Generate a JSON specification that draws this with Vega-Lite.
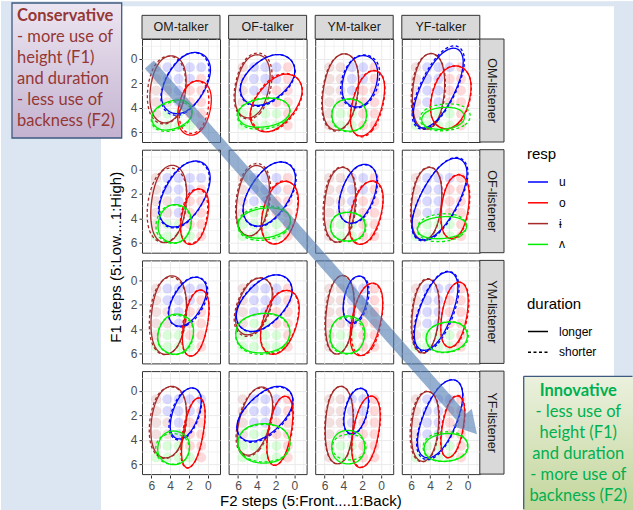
{
"$schema":"https://vega.github.io/schema/vega-lite/v6.json",
"background":"#ffffff",
"padding":0,
"autosize":{"type":"pad"},
"config":{
 "view":{"stroke":"#333333","strokeWidth":1},
 "axis":{"domain":false,"grid":true,"gridColor":"#ebebeb","gridWidth":1,"tickColor":"#333333","tickSize":3,"labelFont":"Liberation Sans","labelFontSize":12,"labelColor":"#4d4d4d","labelPadding":2,"labelOverlap":false,"labelFlush":false},
 "legend":{"orient":"none","padding":0,"symbolType":"stroke","symbolSize":400,"symbolStrokeWidth":1.5,"symbolOpacity":1,"titleFont":"Liberation Sans","titleFontSize":15,"titleFontWeight":"normal","titleColor":"#000000","labelFont":"Liberation Sans","labelFontSize":12,"labelColor":"#000000","titlePadding":9,"rowPadding":3.8,"labelOffset":10}
},
"data":{"values":[
{"k":"p","t":"OM","l":"OM","ct":"OM-talker","rt":"OM-listener"},
{"k":"p","t":"OF","l":"OM","ct":"OF-talker","rt":"OM-listener"},
{"k":"p","t":"YM","l":"OM","ct":"YM-talker","rt":"OM-listener"},
{"k":"p","t":"YF","l":"OM","ct":"YF-talker","rt":"OM-listener"},
{"k":"p","t":"OM","l":"OF","ct":"OM-talker","rt":"OF-listener"},
{"k":"p","t":"OF","l":"OF","ct":"OF-talker","rt":"OF-listener"},
{"k":"p","t":"YM","l":"OF","ct":"YM-talker","rt":"OF-listener"},
{"k":"p","t":"YF","l":"OF","ct":"YF-talker","rt":"OF-listener"},
{"k":"p","t":"OM","l":"YM","ct":"OM-talker","rt":"YM-listener"},
{"k":"p","t":"OF","l":"YM","ct":"OF-talker","rt":"YM-listener"},
{"k":"p","t":"YM","l":"YM","ct":"YM-talker","rt":"YM-listener"},
{"k":"p","t":"YF","l":"YM","ct":"YF-talker","rt":"YM-listener"},
{"k":"p","t":"OM","l":"YF","ct":"OM-talker","rt":"YF-listener"},
{"k":"p","t":"OF","l":"YF","ct":"OF-talker","rt":"YF-listener"},
{"k":"p","t":"YM","l":"YF","ct":"YM-talker","rt":"YF-listener"},
{"k":"p","t":"YF","l":"YF","ct":"YF-talker","rt":"YF-listener"},

{"k":"e","t":"OM","l":"OM","s":"ɨ","d":"longer","x":[1.67,2.76,6.79,5.71],"y":[-0.25,5.69,5.26,-0.68]},
{"k":"e","t":"OM","l":"OM","s":"ɨ","d":"shorter","x":[1.76,2.72,7.03,6.07],"y":[-0.24,5.77,5.36,-0.65]},
{"k":"e","t":"OM","l":"OM","s":"u","d":"longer","x":[-1.58,2.25,6.22,2.38],"y":[0.32,5.41,3.66,-1.43]},
{"k":"e","t":"OM","l":"OM","s":"u","d":"shorter","x":[-1.42,2.23,6.27,2.62],"y":[0.26,5.53,3.88,-1.39]},
{"k":"e","t":"OM","l":"OM","s":"o","d":"longer","x":[-1.09,0.35,3.92,2.48],"y":[1.95,6.74,6.10,1.32]},
{"k":"e","t":"OM","l":"OM","s":"o","d":"shorter","x":[-0.65,0.31,3.59,2.62],"y":[1.81,6.48,6.09,1.41]},
{"k":"e","t":"OM","l":"OM","s":"ʌ","d":"longer","x":[2.10,1.00,5.52,6.61],"y":[2.82,5.12,6.38,4.08]},
{"k":"e","t":"OM","l":"OM","s":"ʌ","d":"shorter","x":[2.07,1.08,5.65,6.64],"y":[2.99,5.32,6.46,4.12]},

{"k":"e","t":"OF","l":"OM","s":"ɨ","d":"longer","x":[1.83,3.37,7.07,5.52],"y":[-0.23,5.35,4.74,-0.83]},
{"k":"e","t":"OF","l":"OM","s":"ɨ","d":"shorter","x":[1.57,3.19,7.22,5.60],"y":[-0.35,5.48,4.82,-1.01]},
{"k":"e","t":"OF","l":"OM","s":"u","d":"longer","x":[-1.34,4.10,7.04,1.61],"y":[1.34,4.83,2.15,-1.35]},
{"k":"e","t":"OF","l":"OM","s":"u","d":"shorter","x":[-1.42,4.10,7.12,1.60],"y":[1.39,4.94,2.18,-1.37]},
{"k":"e","t":"OF","l":"OM","s":"o","d":"longer","x":[-2.18,2.47,6.07,1.43],"y":[2.42,6.98,4.82,0.26]},
{"k":"e","t":"OF","l":"OM","s":"o","d":"shorter","x":[-2.23,2.14,6.02,1.65],"y":[2.36,6.97,4.80,0.19]},
{"k":"e","t":"OF","l":"OM","s":"ʌ","d":"longer","x":[0.47,0.02,6.02,6.47],"y":[2.85,5.33,5.98,3.49]},
{"k":"e","t":"OF","l":"OM","s":"ʌ","d":"shorter","x":[0.47,-0.03,6.09,6.58],"y":[2.80,5.49,6.15,3.46]},

{"k":"e","t":"YM","l":"OM","s":"ɨ","d":"longer","x":[1.71,2.95,6.91,5.67],"y":[-0.45,6.32,5.90,-0.88]},
{"k":"e","t":"YM","l":"OM","s":"ɨ","d":"shorter","x":[1.67,2.93,7.01,5.75],"y":[-0.45,6.41,5.97,-0.89]},
{"k":"e","t":"YM","l":"OM","s":"u","d":"longer","x":[-0.42,1.15,4.91,3.34],"y":[-0.01,4.48,3.71,-0.78]},
{"k":"e","t":"YM","l":"OM","s":"u","d":"shorter","x":[-0.77,1.17,5.20,3.25],"y":[0.06,4.64,3.64,-0.94]},
{"k":"e","t":"YM","l":"OM","s":"o","d":"longer","x":[-1.23,0.79,4.10,2.09],"y":[1.11,6.87,6.19,0.43]},
{"k":"e","t":"YM","l":"OM","s":"o","d":"shorter","x":[-1.26,0.65,4.09,2.18],"y":[1.06,6.93,6.27,0.40]},
{"k":"e","t":"YM","l":"OM","s":"ʌ","d":"longer","x":[1.38,1.38,5.38,5.38],"y":[3.17,6.03,6.03,3.17]},
{"k":"e","t":"YM","l":"OM","s":"ʌ","d":"shorter","x":[1.33,1.33,5.44,5.44],"y":[3.19,6.09,6.09,3.19]},

{"k":"e","t":"YF","l":"OM","s":"ɨ","d":"longer","x":[1.95,2.72,6.37,5.60],"y":[-0.58,6.15,5.91,-0.82]},
{"k":"e","t":"YF","l":"OM","s":"ɨ","d":"shorter","x":[1.86,2.63,6.50,5.73],"y":[-0.55,6.18,5.92,-0.81]},
{"k":"e","t":"YF","l":"OM","s":"u","d":"longer","x":[-0.84,3.58,7.07,2.66],"y":[-0.42,6.52,5.21,-1.72]},
{"k":"e","t":"YF","l":"OM","s":"u","d":"shorter","x":[-1.04,3.57,7.27,2.66],"y":[-0.58,6.67,5.29,-1.96]},
{"k":"e","t":"YF","l":"OM","s":"o","d":"longer","x":[-1.27,0.65,4.85,2.92],"y":[0.83,6.34,5.48,-0.03]},
{"k":"e","t":"YF","l":"OM","s":"o","d":"shorter","x":[-1.28,0.52,4.85,3.05],"y":[0.82,6.35,5.52,-0.01]},
{"k":"e","t":"YF","l":"OM","s":"ʌ","d":"longer","x":[0.24,0.02,4.97,5.19],"y":[3.74,5.66,6.00,4.07]},
{"k":"e","t":"YF","l":"OM","s":"ʌ","d":"shorter","x":[-0.38,-0.65,5.16,5.43],"y":[3.41,5.77,6.16,3.80]},

{"k":"e","t":"OM","l":"OF","s":"ɨ","d":"longer","x":[1.62,2.73,6.70,5.60],"y":[-0.42,6.45,6.08,-0.80]},
{"k":"e","t":"OM","l":"OF","s":"ɨ","d":"shorter","x":[1.53,2.74,7.15,5.94],"y":[-0.13,6.46,5.99,-0.61]},
{"k":"e","t":"OM","l":"OF","s":"u","d":"longer","x":[-1.61,2.56,6.53,2.35],"y":[0.12,5.66,3.91,-1.64]},
{"k":"e","t":"OM","l":"OF","s":"u","d":"shorter","x":[-1.54,2.51,6.61,2.56],"y":[0.14,5.74,4.00,-1.60]},
{"k":"e","t":"OM","l":"OF","s":"o","d":"longer","x":[-0.74,0.62,3.53,2.17],"y":[1.64,6.56,6.09,1.17]},
{"k":"e","t":"OM","l":"OF","s":"o","d":"shorter","x":[-0.55,0.56,3.49,2.38],"y":[1.60,6.44,6.04,1.21]},
{"k":"e","t":"OM","l":"OF","s":"ʌ","d":"longer","x":[1.12,2.28,5.92,4.77],"y":[3.16,6.46,5.71,2.41]},
{"k":"e","t":"OM","l":"OF","s":"ʌ","d":"shorter","x":[1.14,2.29,6.16,5.01],"y":[3.22,6.53,5.73,2.43]},

{"k":"e","t":"OF","l":"OF","s":"ɨ","d":"longer","x":[2.03,3.18,6.80,5.65],"y":[-0.37,5.88,5.49,-0.76]},
{"k":"e","t":"OF","l":"OF","s":"ɨ","d":"shorter","x":[1.88,3.06,6.91,5.73],"y":[-0.53,5.90,5.48,-0.94]},
{"k":"e","t":"OF","l":"OF","s":"u","d":"longer","x":[-1.49,2.99,6.83,2.35],"y":[0.32,5.62,3.71,-1.59]},
{"k":"e","t":"OF","l":"OF","s":"u","d":"shorter","x":[-1.60,2.95,6.88,2.33],"y":[0.33,5.69,3.74,-1.63]},
{"k":"e","t":"OF","l":"OF","s":"o","d":"longer","x":[-1.30,0.63,4.38,2.46],"y":[1.17,6.68,5.91,0.40]},
{"k":"e","t":"OF","l":"OF","s":"o","d":"shorter","x":[-1.16,0.52,4.30,2.63],"y":[1.06,6.61,5.94,0.39]},
{"k":"e","t":"OF","l":"OF","s":"ʌ","d":"longer","x":[0.42,-0.06,5.99,6.47],"y":[2.75,5.36,6.01,3.40]},
{"k":"e","t":"OF","l":"OF","s":"ʌ","d":"shorter","x":[0.44,-0.11,6.01,6.55],"y":[2.59,5.54,6.20,3.25]},

{"k":"e","t":"YM","l":"OF","s":"ɨ","d":"longer","x":[2.23,2.99,6.52,5.76],"y":[-0.31,6.32,6.09,-0.55]},
{"k":"e","t":"YM","l":"OF","s":"ɨ","d":"shorter","x":[2.13,2.90,6.66,5.89],"y":[-0.35,6.38,6.12,-0.60]},
{"k":"e","t":"YM","l":"OF","s":"u","d":"longer","x":[-0.53,1.90,5.44,3.02],"y":[-0.07,5.04,4.05,-1.06]},
{"k":"e","t":"YM","l":"OF","s":"u","d":"shorter","x":[-0.61,1.81,5.47,3.04],"y":[-0.01,5.09,4.07,-1.03]},
{"k":"e","t":"YM","l":"OF","s":"o","d":"longer","x":[-1.06,0.89,4.21,2.25],"y":[1.08,6.67,5.99,0.40]},
{"k":"e","t":"YM","l":"OF","s":"o","d":"shorter","x":[-0.99,0.68,4.14,2.47],"y":[1.07,6.62,6.01,0.46]},
{"k":"e","t":"YM","l":"OF","s":"ʌ","d":"longer","x":[1.52,1.52,5.52,5.52],"y":[3.41,5.95,5.95,3.41]},
{"k":"e","t":"YM","l":"OF","s":"ʌ","d":"shorter","x":[1.43,1.43,5.55,5.55],"y":[3.37,6.00,6.00,3.37]},

{"k":"e","t":"YF","l":"OF","s":"ɨ","d":"longer","x":[2.22,3.11,6.52,5.64],"y":[-0.28,6.17,5.89,-0.56]},
{"k":"e","t":"YF","l":"OF","s":"ɨ","d":"shorter","x":[2.18,3.08,6.61,5.71],"y":[-0.32,6.22,5.93,-0.61]},
{"k":"e","t":"YF","l":"OF","s":"u","d":"longer","x":[-1.37,3.51,7.35,2.46],"y":[-0.32,6.73,5.16,-1.88]},
{"k":"e","t":"YF","l":"OF","s":"u","d":"shorter","x":[-1.51,3.49,7.42,2.43],"y":[-0.36,6.84,5.24,-1.97]},
{"k":"e","t":"YF","l":"OF","s":"o","d":"longer","x":[-0.72,0.32,3.38,2.34],"y":[0.39,6.04,5.71,0.06]},
{"k":"e","t":"YF","l":"OF","s":"o","d":"shorter","x":[-0.80,0.25,3.42,2.37],"y":[0.36,6.09,5.74,0.01]},
{"k":"e","t":"YF","l":"OF","s":"ʌ","d":"longer","x":[-0.03,-0.25,5.45,5.67],"y":[3.61,5.53,5.91,3.99]},
{"k":"e","t":"YF","l":"OF","s":"ʌ","d":"shorter","x":[0.04,-0.24,5.45,5.73],"y":[3.35,5.79,6.18,3.73]},

{"k":"e","t":"OM","l":"YM","s":"ɨ","d":"longer","x":[1.69,2.65,6.63,5.67],"y":[-0.47,6.51,6.19,-0.79]},
{"k":"e","t":"OM","l":"YM","s":"ɨ","d":"shorter","x":[1.66,2.60,6.81,5.87],"y":[-0.35,6.54,6.20,-0.69]},
{"k":"e","t":"OM","l":"YM","s":"u","d":"longer","x":[-0.89,2.20,5.17,2.08],"y":[0.38,4.48,3.16,-0.94]},
{"k":"e","t":"OM","l":"YM","s":"u","d":"shorter","x":[-1.05,2.09,5.26,2.12],"y":[0.40,4.57,3.17,-1.00]},
{"k":"e","t":"OM","l":"YM","s":"o","d":"longer","x":[-0.74,0.61,3.31,1.96],"y":[0.76,6.63,6.27,0.40]},
{"k":"e","t":"OM","l":"YM","s":"o","d":"shorter","x":[-0.77,0.58,3.39,2.04],"y":[0.75,6.62,6.24,0.37]},
{"k":"e","t":"OM","l":"YM","s":"ʌ","d":"longer","x":[0.73,2.34,6.10,4.49],"y":[3.25,6.63,5.58,2.20]},
{"k":"e","t":"OM","l":"YM","s":"ʌ","d":"shorter","x":[0.86,2.04,6.02,4.83],"y":[3.19,6.58,5.76,2.38]},

{"k":"e","t":"OF","l":"YM","s":"ɨ","d":"longer","x":[1.42,3.76,7.20,4.86],"y":[0.16,5.10,4.14,-0.80]},
{"k":"e","t":"OF","l":"YM","s":"ɨ","d":"shorter","x":[1.30,3.73,7.38,4.96],"y":[0.15,5.26,4.24,-0.87]},
{"k":"e","t":"OF","l":"YM","s":"u","d":"longer","x":[-1.14,4.26,7.55,2.15],"y":[0.96,5.25,2.81,-1.48]},
{"k":"e","t":"OF","l":"YM","s":"u","d":"shorter","x":[-1.16,4.24,7.61,2.21],"y":[1.01,5.30,2.80,-1.49]},
{"k":"e","t":"OF","l":"YM","s":"o","d":"longer","x":[-1.49,0.88,4.58,2.21],"y":[1.12,6.71,5.79,0.20]},
{"k":"e","t":"OF","l":"YM","s":"o","d":"shorter","x":[-1.39,0.82,4.54,2.33],"y":[1.09,6.62,5.75,0.21]},
{"k":"e","t":"OF","l":"YM","s":"ʌ","d":"longer","x":[0.42,0.02,6.29,6.68],"y":[2.37,5.87,6.29,2.79]},
{"k":"e","t":"OF","l":"YM","s":"ʌ","d":"shorter","x":[0.45,0.05,6.31,6.72],"y":[2.39,5.98,6.40,2.81]},

{"k":"e","t":"YM","l":"YM","s":"ɨ","d":"longer","x":[2.38,3.18,6.37,5.57],"y":[-0.56,6.43,6.22,-0.77]},
{"k":"e","t":"YM","l":"YM","s":"ɨ","d":"shorter","x":[2.34,3.14,6.45,5.65],"y":[-0.54,6.45,6.23,-0.76]},
{"k":"e","t":"YM","l":"YM","s":"u","d":"longer","x":[0.86,2.00,4.57,3.43],"y":[-0.27,3.85,3.43,-0.69]},
{"k":"e","t":"YM","l":"YM","s":"u","d":"shorter","x":[0.71,1.88,4.56,3.40],"y":[-0.26,3.94,3.50,-0.70]},
{"k":"e","t":"YM","l":"YM","s":"o","d":"longer","x":[-0.97,0.81,4.06,2.27],"y":[0.26,6.69,6.16,-0.27]},
{"k":"e","t":"YM","l":"YM","s":"o","d":"shorter","x":[-0.90,0.57,3.84,2.37],"y":[0.24,6.63,6.19,-0.20]},
{"k":"e","t":"YM","l":"YM","s":"ʌ","d":"longer","x":[1.22,1.97,5.91,5.16],"y":[3.09,6.37,5.84,2.55]},
{"k":"e","t":"YM","l":"YM","s":"ʌ","d":"shorter","x":[1.47,1.84,5.83,5.46],"y":[3.08,6.31,6.04,2.81]},

{"k":"e","t":"YF","l":"YM","s":"ɨ","d":"longer","x":[2.57,3.32,6.39,5.64],"y":[-0.23,6.32,6.12,-0.44]},
{"k":"e","t":"YF","l":"YM","s":"ɨ","d":"shorter","x":[2.53,3.28,6.47,5.72],"y":[-0.29,6.35,6.14,-0.50]},
{"k":"e","t":"YF","l":"YM","s":"u","d":"longer","x":[-0.13,3.31,6.83,3.39],"y":[-0.39,6.49,5.46,-1.42]},
{"k":"e","t":"YF","l":"YM","s":"u","d":"shorter","x":[-0.30,3.22,6.96,3.44],"y":[-0.41,6.63,5.53,-1.51]},
{"k":"e","t":"YF","l":"YM","s":"o","d":"longer","x":[-0.68,0.65,3.47,2.14],"y":[0.13,5.91,5.53,-0.25]},
{"k":"e","t":"YF","l":"YM","s":"o","d":"shorter","x":[-0.77,0.56,3.49,2.16],"y":[0.15,5.94,5.54,-0.25]},
{"k":"e","t":"YF","l":"YM","s":"ʌ","d":"longer","x":[0.15,-0.45,4.28,4.88],"y":[3.04,5.63,6.27,3.68]},
{"k":"e","t":"YF","l":"YM","s":"ʌ","d":"shorter","x":[0.05,-0.57,4.27,4.89],"y":[2.99,5.67,6.32,3.65]},

{"k":"e","t":"OM","l":"YF","s":"ɨ","d":"longer","x":[1.67,2.68,6.66,5.64],"y":[-0.43,5.92,5.55,-0.80]},
{"k":"e","t":"OM","l":"YF","s":"ɨ","d":"shorter","x":[1.63,2.64,6.84,5.83],"y":[-0.38,5.98,5.58,-0.77]},
{"k":"e","t":"OM","l":"YF","s":"u","d":"longer","x":[-0.10,2.01,4.80,2.69],"y":[0.02,4.47,3.69,-0.77]},
{"k":"e","t":"OM","l":"YF","s":"u","d":"shorter","x":[-0.19,1.97,4.97,2.82],"y":[0.06,4.59,3.75,-0.78]},
{"k":"e","t":"OM","l":"YF","s":"o","d":"longer","x":[-0.30,1.13,3.38,1.95],"y":[0.48,6.69,6.39,0.17]},
{"k":"e","t":"OM","l":"YF","s":"o","d":"shorter","x":[-0.32,1.11,3.47,2.04],"y":[0.51,6.73,6.41,0.19]},
{"k":"e","t":"OM","l":"YF","s":"ʌ","d":"longer","x":[1.36,2.36,5.90,4.89],"y":[3.58,6.46,5.73,2.85]},
{"k":"e","t":"OM","l":"YF","s":"ʌ","d":"shorter","x":[1.81,1.81,5.70,5.70],"y":[3.38,6.10,6.10,3.38]},

{"k":"e","t":"OF","l":"YF","s":"ɨ","d":"longer","x":[1.44,3.54,6.97,4.86],"y":[-0.18,5.84,5.13,-0.88]},
{"k":"e","t":"OF","l":"YF","s":"ɨ","d":"shorter","x":[1.36,3.46,7.11,5.01],"y":[-0.07,5.94,5.19,-0.82]},
{"k":"e","t":"OF","l":"YF","s":"u","d":"longer","x":[-1.17,4.43,7.44,1.85],"y":[1.01,5.15,2.76,-1.39]},
{"k":"e","t":"OF","l":"YF","s":"u","d":"shorter","x":[-1.23,4.37,7.46,1.87],"y":[1.11,5.25,2.79,-1.35]},
{"k":"e","t":"OF","l":"YF","s":"o","d":"longer","x":[-0.46,0.95,3.54,2.13],"y":[0.38,6.51,6.16,0.03]},
{"k":"e","t":"OF","l":"YF","s":"o","d":"shorter","x":[-0.54,0.88,3.58,2.17],"y":[0.37,6.50,6.14,0.01]},
{"k":"e","t":"OF","l":"YF","s":"ʌ","d":"longer","x":[0.24,0.24,6.25,6.25],"y":[2.54,6.05,6.05,2.54]},
{"k":"e","t":"OF","l":"YF","s":"ʌ","d":"shorter","x":[0.19,0.19,6.25,6.25],"y":[2.61,5.94,5.94,2.61]},

{"k":"e","t":"YM","l":"YF","s":"ɨ","d":"longer","x":[2.61,3.08,6.28,5.81],"y":[-0.57,6.31,6.18,-0.70]},
{"k":"e","t":"YM","l":"YF","s":"ɨ","d":"shorter","x":[2.56,3.03,6.34,5.87],"y":[-0.59,6.33,6.20,-0.72]},
{"k":"e","t":"YM","l":"YF","s":"u","d":"longer","x":[0.73,2.12,4.55,3.16],"y":[-0.08,3.90,3.40,-0.58]},
{"k":"e","t":"YM","l":"YF","s":"u","d":"shorter","x":[0.66,2.08,4.62,3.20],"y":[-0.11,3.96,3.44,-0.63]},
{"k":"e","t":"YM","l":"YF","s":"o","d":"longer","x":[-0.57,0.89,3.78,2.32],"y":[0.38,6.72,6.33,-0.01]},
{"k":"e","t":"YM","l":"YF","s":"o","d":"shorter","x":[-0.62,0.84,3.76,2.31],"y":[0.38,6.69,6.29,-0.02]},
{"k":"e","t":"YM","l":"YF","s":"ʌ","d":"longer","x":[1.58,1.58,5.40,5.40],"y":[3.11,6.09,6.09,3.11]},
{"k":"e","t":"YM","l":"YF","s":"ʌ","d":"shorter","x":[1.44,1.44,5.33,5.33],"y":[3.46,5.74,5.74,3.46]},

{"k":"e","t":"YF","l":"YF","s":"ɨ","d":"longer","x":[2.63,3.34,6.41,5.71],"y":[-0.09,6.12,5.91,-0.29]},
{"k":"e","t":"YF","l":"YF","s":"ɨ","d":"shorter","x":[2.54,3.26,6.56,5.85],"y":[-0.11,6.18,5.96,-0.33]},
{"k":"e","t":"YF","l":"YF","s":"u","d":"longer","x":[-0.68,2.92,6.53,2.93],"y":[-0.57,6.26,5.15,-1.68]},
{"k":"e","t":"YF","l":"YF","s":"u","d":"shorter","x":[-0.74,2.94,6.66,2.97],"y":[-0.57,6.43,5.28,-1.72]},
{"k":"e","t":"YF","l":"YF","s":"o","d":"longer","x":[-0.24,1.02,3.39,2.13],"y":[0.37,5.84,5.52,0.05]},
{"k":"e","t":"YF","l":"YF","s":"o","d":"shorter","x":[-0.30,0.97,3.45,2.18],"y":[0.33,5.86,5.52,0.00]},
{"k":"e","t":"YF","l":"YF","s":"ʌ","d":"longer","x":[-0.11,-0.39,4.69,4.97],"y":[3.23,5.68,6.02,3.57]},
{"k":"e","t":"YF","l":"YF","s":"ʌ","d":"shorter","x":[-0.04,-0.34,4.79,5.09],"y":[3.08,5.70,6.04,3.42]},

{"k":"b","t":"OM","l":"OM","y":0.7,"x":[5.5,4.3,3.1,1.9,0.7],"s":["ɨ","u","u","u","u"]},
{"k":"b","t":"OM","l":"OM","y":1.65,"x":[5.5,4.3,3.1,1.9,0.7],"s":["ɨ","u","u","u","o"]},
{"k":"b","t":"OM","l":"OM","y":2.6,"x":[5.5,4.3,3.1,1.9,0.7],"s":["ɨ","ɨ","u","o","o"]},
{"k":"b","t":"OM","l":"OM","y":3.55,"x":[5.5,4.3,3.1,1.9,0.7],"s":["ɨ","ɨ","u","o","o"]},
{"k":"b","t":"OM","l":"OM","y":4.5,"x":[5.5,4.3,3.1,1.9,0.7],"s":["ɨ","ʌ","ʌ","o","o"]},
{"k":"b","t":"OM","l":"OM","y":5.45,"x":[5.5,4.3,3.1,1.9,0.7],"s":["ʌ","ʌ","ʌ","ʌ","o"]},
{"k":"b","t":"OF","l":"OM","y":0.7,"x":[5.5,4.3,3.1,1.9,0.7],"s":["ɨ","u","u","u","o"]},
{"k":"b","t":"OF","l":"OM","y":1.65,"x":[5.5,4.3,3.1,1.9,0.7],"s":["ɨ","u","u","u","o"]},
{"k":"b","t":"OF","l":"OM","y":2.6,"x":[5.5,4.3,3.1,1.9,0.7],"s":["ɨ","u","u","o","o"]},
{"k":"b","t":"OF","l":"OM","y":3.55,"x":[5.5,4.3,3.1,1.9,0.7],"s":["ɨ","ʌ","ʌ","o","o"]},
{"k":"b","t":"OF","l":"OM","y":4.5,"x":[5.5,4.3,3.1,1.9,0.7],"s":["ʌ","ʌ","ʌ","ʌ","o"]},
{"k":"b","t":"OF","l":"OM","y":5.45,"x":[5.5,4.3,3.1,1.9,0.7],"s":["ʌ","ʌ","ʌ","ʌ","o"]},
{"k":"b","t":"YM","l":"OM","y":0.7,"x":[5.5,4.3,3.1,1.9,0.7],"s":["ɨ","ɨ","u","u","o"]},
{"k":"b","t":"YM","l":"OM","y":1.65,"x":[5.5,4.3,3.1,1.9,0.7],"s":["ɨ","ɨ","u","u","o"]},
{"k":"b","t":"YM","l":"OM","y":2.6,"x":[5.5,4.3,3.1,1.9,0.7],"s":["ɨ","ɨ","u","o","o"]},
{"k":"b","t":"YM","l":"OM","y":3.55,"x":[5.5,4.3,3.1,1.9,0.7],"s":["ɨ","ɨ","u","o","o"]},
{"k":"b","t":"YM","l":"OM","y":4.5,"x":[5.5,4.3,3.1,1.9,0.7],"s":["ɨ","ʌ","ʌ","o","o"]},
{"k":"b","t":"YM","l":"OM","y":5.45,"x":[5.5,4.3,3.1,1.9,0.7],"s":["ɨ","ʌ","ʌ","o","o"]},
{"k":"b","t":"YF","l":"OM","y":0.7,"x":[5.5,4.3,3.1,1.9,0.7],"s":["ɨ","u","u","u","o"]},
{"k":"b","t":"YF","l":"OM","y":1.65,"x":[5.5,4.3,3.1,1.9,0.7],"s":["ɨ","u","u","o","o"]},
{"k":"b","t":"YF","l":"OM","y":2.6,"x":[5.5,4.3,3.1,1.9,0.7],"s":["ɨ","u","u","o","o"]},
{"k":"b","t":"YF","l":"OM","y":3.55,"x":[5.5,4.3,3.1,1.9,0.7],"s":["ɨ","u","u","o","o"]},
{"k":"b","t":"YF","l":"OM","y":4.5,"x":[5.5,4.3,3.1,1.9,0.7],"s":["ɨ","ʌ","ʌ","ʌ","o"]},
{"k":"b","t":"YF","l":"OM","y":5.45,"x":[5.5,4.3,3.1,1.9,0.7],"s":["ʌ","ʌ","ʌ","ʌ","o"]},

{"k":"b","t":"OM","l":"OF","y":0.7,"x":[5.5,4.3,3.1,1.9,0.7],"s":["ɨ","u","u","u","u"]},
{"k":"b","t":"OM","l":"OF","y":1.65,"x":[5.5,4.3,3.1,1.9,0.7],"s":["ɨ","u","u","u","o"]},
{"k":"b","t":"OM","l":"OF","y":2.6,"x":[5.5,4.3,3.1,1.9,0.7],"s":["ɨ","ɨ","u","o","o"]},
{"k":"b","t":"OM","l":"OF","y":3.55,"x":[5.5,4.3,3.1,1.9,0.7],"s":["ɨ","ɨ","u","o","o"]},
{"k":"b","t":"OM","l":"OF","y":4.5,"x":[5.5,4.3,3.1,1.9,0.7],"s":["ɨ","ʌ","ʌ","o","o"]},
{"k":"b","t":"OM","l":"OF","y":5.45,"x":[5.5,4.3,3.1,1.9,0.7],"s":["ʌ","ʌ","ʌ","ʌ","o"]},
{"k":"b","t":"OF","l":"OF","y":0.7,"x":[5.5,4.3,3.1,1.9,0.7],"s":["ɨ","u","u","u","o"]},
{"k":"b","t":"OF","l":"OF","y":1.65,"x":[5.5,4.3,3.1,1.9,0.7],"s":["ɨ","u","u","u","o"]},
{"k":"b","t":"OF","l":"OF","y":2.6,"x":[5.5,4.3,3.1,1.9,0.7],"s":["ɨ","u","u","o","o"]},
{"k":"b","t":"OF","l":"OF","y":3.55,"x":[5.5,4.3,3.1,1.9,0.7],"s":["ɨ","ʌ","ʌ","o","o"]},
{"k":"b","t":"OF","l":"OF","y":4.5,"x":[5.5,4.3,3.1,1.9,0.7],"s":["ʌ","ʌ","ʌ","ʌ","o"]},
{"k":"b","t":"OF","l":"OF","y":5.45,"x":[5.5,4.3,3.1,1.9,0.7],"s":["ʌ","ʌ","ʌ","ʌ","o"]},
{"k":"b","t":"YM","l":"OF","y":0.7,"x":[5.5,4.3,3.1,1.9,0.7],"s":["ɨ","ɨ","u","u","o"]},
{"k":"b","t":"YM","l":"OF","y":1.65,"x":[5.5,4.3,3.1,1.9,0.7],"s":["ɨ","ɨ","u","u","o"]},
{"k":"b","t":"YM","l":"OF","y":2.6,"x":[5.5,4.3,3.1,1.9,0.7],"s":["ɨ","ɨ","u","o","o"]},
{"k":"b","t":"YM","l":"OF","y":3.55,"x":[5.5,4.3,3.1,1.9,0.7],"s":["ɨ","ɨ","u","o","o"]},
{"k":"b","t":"YM","l":"OF","y":4.5,"x":[5.5,4.3,3.1,1.9,0.7],"s":["ɨ","ʌ","ʌ","o","o"]},
{"k":"b","t":"YM","l":"OF","y":5.45,"x":[5.5,4.3,3.1,1.9,0.7],"s":["ɨ","ʌ","ʌ","o","o"]},
{"k":"b","t":"YF","l":"OF","y":0.7,"x":[5.5,4.3,3.1,1.9,0.7],"s":["ɨ","u","u","u","o"]},
{"k":"b","t":"YF","l":"OF","y":1.65,"x":[5.5,4.3,3.1,1.9,0.7],"s":["ɨ","u","u","o","o"]},
{"k":"b","t":"YF","l":"OF","y":2.6,"x":[5.5,4.3,3.1,1.9,0.7],"s":["ɨ","u","u","o","o"]},
{"k":"b","t":"YF","l":"OF","y":3.55,"x":[5.5,4.3,3.1,1.9,0.7],"s":["ɨ","u","u","o","o"]},
{"k":"b","t":"YF","l":"OF","y":4.5,"x":[5.5,4.3,3.1,1.9,0.7],"s":["ɨ","ʌ","ʌ","ʌ","o"]},
{"k":"b","t":"YF","l":"OF","y":5.45,"x":[5.5,4.3,3.1,1.9,0.7],"s":["ʌ","ʌ","ʌ","ʌ","o"]},

{"k":"b","t":"OM","l":"YM","y":0.7,"x":[5.5,4.3,3.1,1.9,0.7],"s":["ɨ","u","u","u","u"]},
{"k":"b","t":"OM","l":"YM","y":1.65,"x":[5.5,4.3,3.1,1.9,0.7],"s":["ɨ","u","u","u","o"]},
{"k":"b","t":"OM","l":"YM","y":2.6,"x":[5.5,4.3,3.1,1.9,0.7],"s":["ɨ","ɨ","u","o","o"]},
{"k":"b","t":"OM","l":"YM","y":3.55,"x":[5.5,4.3,3.1,1.9,0.7],"s":["ɨ","ɨ","u","o","o"]},
{"k":"b","t":"OM","l":"YM","y":4.5,"x":[5.5,4.3,3.1,1.9,0.7],"s":["ɨ","ʌ","ʌ","o","o"]},
{"k":"b","t":"OM","l":"YM","y":5.45,"x":[5.5,4.3,3.1,1.9,0.7],"s":["ʌ","ʌ","ʌ","ʌ","o"]},
{"k":"b","t":"OF","l":"YM","y":0.7,"x":[5.5,4.3,3.1,1.9,0.7],"s":["ɨ","u","u","u","o"]},
{"k":"b","t":"OF","l":"YM","y":1.65,"x":[5.5,4.3,3.1,1.9,0.7],"s":["ɨ","u","u","u","o"]},
{"k":"b","t":"OF","l":"YM","y":2.6,"x":[5.5,4.3,3.1,1.9,0.7],"s":["ɨ","u","u","o","o"]},
{"k":"b","t":"OF","l":"YM","y":3.55,"x":[5.5,4.3,3.1,1.9,0.7],"s":["ɨ","ʌ","ʌ","o","o"]},
{"k":"b","t":"OF","l":"YM","y":4.5,"x":[5.5,4.3,3.1,1.9,0.7],"s":["ʌ","ʌ","ʌ","ʌ","o"]},
{"k":"b","t":"OF","l":"YM","y":5.45,"x":[5.5,4.3,3.1,1.9,0.7],"s":["ʌ","ʌ","ʌ","ʌ","o"]},
{"k":"b","t":"YM","l":"YM","y":0.7,"x":[5.5,4.3,3.1,1.9,0.7],"s":["ɨ","ɨ","u","u","o"]},
{"k":"b","t":"YM","l":"YM","y":1.65,"x":[5.5,4.3,3.1,1.9,0.7],"s":["ɨ","ɨ","u","u","o"]},
{"k":"b","t":"YM","l":"YM","y":2.6,"x":[5.5,4.3,3.1,1.9,0.7],"s":["ɨ","ɨ","u","o","o"]},
{"k":"b","t":"YM","l":"YM","y":3.55,"x":[5.5,4.3,3.1,1.9,0.7],"s":["ɨ","ɨ","u","o","o"]},
{"k":"b","t":"YM","l":"YM","y":4.5,"x":[5.5,4.3,3.1,1.9,0.7],"s":["ɨ","ʌ","ʌ","o","o"]},
{"k":"b","t":"YM","l":"YM","y":5.45,"x":[5.5,4.3,3.1,1.9,0.7],"s":["ɨ","ʌ","ʌ","o","o"]},
{"k":"b","t":"YF","l":"YM","y":0.7,"x":[5.5,4.3,3.1,1.9,0.7],"s":["ɨ","u","u","u","o"]},
{"k":"b","t":"YF","l":"YM","y":1.65,"x":[5.5,4.3,3.1,1.9,0.7],"s":["ɨ","u","u","o","o"]},
{"k":"b","t":"YF","l":"YM","y":2.6,"x":[5.5,4.3,3.1,1.9,0.7],"s":["ɨ","u","u","o","o"]},
{"k":"b","t":"YF","l":"YM","y":3.55,"x":[5.5,4.3,3.1,1.9,0.7],"s":["ɨ","u","u","o","o"]},
{"k":"b","t":"YF","l":"YM","y":4.5,"x":[5.5,4.3,3.1,1.9,0.7],"s":["ɨ","ʌ","ʌ","ʌ","o"]},
{"k":"b","t":"YF","l":"YM","y":5.45,"x":[5.5,4.3,3.1,1.9,0.7],"s":["ʌ","ʌ","ʌ","ʌ","o"]},

{"k":"b","t":"OM","l":"YF","y":0.7,"x":[5.5,4.3,3.1,1.9,0.7],"s":["ɨ","u","u","u","u"]},
{"k":"b","t":"OM","l":"YF","y":1.65,"x":[5.5,4.3,3.1,1.9,0.7],"s":["ɨ","u","u","u","o"]},
{"k":"b","t":"OM","l":"YF","y":2.6,"x":[5.5,4.3,3.1,1.9,0.7],"s":["ɨ","ɨ","u","o","o"]},
{"k":"b","t":"OM","l":"YF","y":3.55,"x":[5.5,4.3,3.1,1.9,0.7],"s":["ɨ","ɨ","u","o","o"]},
{"k":"b","t":"OM","l":"YF","y":4.5,"x":[5.5,4.3,3.1,1.9,0.7],"s":["ɨ","ʌ","ʌ","o","o"]},
{"k":"b","t":"OM","l":"YF","y":5.45,"x":[5.5,4.3,3.1,1.9,0.7],"s":["ʌ","ʌ","ʌ","ʌ","o"]},
{"k":"b","t":"OF","l":"YF","y":0.7,"x":[5.5,4.3,3.1,1.9,0.7],"s":["ɨ","u","u","u","o"]},
{"k":"b","t":"OF","l":"YF","y":1.65,"x":[5.5,4.3,3.1,1.9,0.7],"s":["ɨ","u","u","u","o"]},
{"k":"b","t":"OF","l":"YF","y":2.6,"x":[5.5,4.3,3.1,1.9,0.7],"s":["ɨ","u","u","o","o"]},
{"k":"b","t":"OF","l":"YF","y":3.55,"x":[5.5,4.3,3.1,1.9,0.7],"s":["ɨ","ʌ","ʌ","o","o"]},
{"k":"b","t":"OF","l":"YF","y":4.5,"x":[5.5,4.3,3.1,1.9,0.7],"s":["ʌ","ʌ","ʌ","ʌ","o"]},
{"k":"b","t":"OF","l":"YF","y":5.45,"x":[5.5,4.3,3.1,1.9,0.7],"s":["ʌ","ʌ","ʌ","ʌ","o"]},
{"k":"b","t":"YM","l":"YF","y":0.7,"x":[5.5,4.3,3.1,1.9,0.7],"s":["ɨ","ɨ","u","u","o"]},
{"k":"b","t":"YM","l":"YF","y":1.65,"x":[5.5,4.3,3.1,1.9,0.7],"s":["ɨ","ɨ","u","u","o"]},
{"k":"b","t":"YM","l":"YF","y":2.6,"x":[5.5,4.3,3.1,1.9,0.7],"s":["ɨ","ɨ","u","o","o"]},
{"k":"b","t":"YM","l":"YF","y":3.55,"x":[5.5,4.3,3.1,1.9,0.7],"s":["ɨ","ɨ","u","o","o"]},
{"k":"b","t":"YM","l":"YF","y":4.5,"x":[5.5,4.3,3.1,1.9,0.7],"s":["ɨ","ʌ","ʌ","o","o"]},
{"k":"b","t":"YM","l":"YF","y":5.45,"x":[5.5,4.3,3.1,1.9,0.7],"s":["ɨ","ʌ","ʌ","o","o"]},
{"k":"b","t":"YF","l":"YF","y":0.7,"x":[5.5,4.3,3.1,1.9,0.7],"s":["ɨ","u","u","u","o"]},
{"k":"b","t":"YF","l":"YF","y":1.65,"x":[5.5,4.3,3.1,1.9,0.7],"s":["ɨ","u","u","o","o"]},
{"k":"b","t":"YF","l":"YF","y":2.6,"x":[5.5,4.3,3.1,1.9,0.7],"s":["ɨ","u","u","o","o"]},
{"k":"b","t":"YF","l":"YF","y":3.55,"x":[5.5,4.3,3.1,1.9,0.7],"s":["ɨ","u","u","o","o"]},
{"k":"b","t":"YF","l":"YF","y":4.5,"x":[5.5,4.3,3.1,1.9,0.7],"s":["ɨ","ʌ","ʌ","ʌ","o"]},
{"k":"b","t":"YF","l":"YF","y":5.45,"x":[5.5,4.3,3.1,1.9,0.7],"s":["ʌ","ʌ","ʌ","ʌ","o"]}
]},
"facet":{
 "row":{"field":"l","type":"nominal","sort":["OM","OF","YM","YF"],"header":null},
 "column":{"field":"t","type":"nominal","sort":["OM","OF","YM","YF"],"header":null}
},
"spacing":{"row":7.7,"column":8.6},
"bounds":"flush",
"spec":{
 "width":78,"height":103,
 "layer":[
  {"transform":[{"filter":"datum.k=='p'&&datum.t=='OM'&&datum.l=='OM'"}],
   "mark":{"type":"rect","fill":"#dce6f2","strokeWidth":0,"clip":false},
   "encoding":{
     "x":{"datum":22.004,"type":"quantitative","scale":{"domain":[-1.3,7],"reverse":true,"nice":false,"zero":false},
       "axis":{"title":null,"grid":true,"ticks":true,"labels":true,"tickCount":4,"gridWidth":1}},
     "x2":{"datum":11.363},
     "y":{"datum":-4.675,"type":"quantitative","scale":{"domain":[-1.6,6.8],"reverse":true,"nice":false,"zero":false},
       "axis":{"title":null,"grid":true,"ticks":true,"labels":true,"tickCount":4,"gridWidth":1}},
     "y2":{"datum":36.885}}},
  {"transform":[{"filter":"datum.k=='p'&&datum.t=='OM'&&datum.l=='OM'"}],
   "mark":{"type":"rect","fill":"#dce6f2","strokeWidth":0,"clip":false},
   "encoding":{"x":{"datum":22.004,"type":"quantitative"},"x2":{"datum":-45.311},"y":{"datum":-4.675,"type":"quantitative"},"y2":{"datum":-4.267}}},
  {"transform":[{"filter":"datum.k=='p'&&datum.t=='OM'&&datum.l=='OM'"}],
   "mark":{"type":"rect","fill":"#dce6f2","strokeWidth":0,"clip":false},
   "encoding":{"x":{"datum":-43.226,"type":"quantitative"},"x2":{"datum":-45.311},"y":{"datum":-4.675,"type":"quantitative"},"y2":{"datum":36.885}}},
  {"transform":[{"filter":"datum.k=='p'&&datum.t=='OM'&&datum.l=='OM'"}],
   "mark":{"type":"rect","clip":false,"stroke":"#3d5a80","strokeWidth":1.3,
     "fill":{"gradient":"linear","x1":0,"y1":0,"x2":0,"y2":1,"stops":[{"offset":0,"color":"#ece6f1"},{"offset":1,"color":"#c4b2d0"}]}},
   "encoding":{"x":{"datum":20.833,"type":"quantitative"},"x2":{"datum":9.16},"y":{"datum":-4.536,"type":"quantitative"},"y2":{"datum":6.474}}},
  {"transform":[{"filter":"datum.k=='p'&&datum.t=='OM'&&datum.l=='OM'"}],
   "mark":{"type":"text","clip":false,"text":"Conservative","align":"left","baseline":"middle","font":"Lato","fontSize":16.5,"fontWeight":"bold","color":"#953735"},
   "encoding":{"x":{"datum":20.301,"type":"quantitative"},"y":{"datum":-3.508,"type":"quantitative"}}},
  {"transform":[{"filter":"datum.k=='p'&&datum.t=='OM'&&datum.l=='OM'"}],
   "mark":{"type":"text","clip":false,"text":["- more use of","height (F1)","and duration","- less use of","backness (F2)"],"lineHeight":21,"align":"left","baseline":"middle","font":"Lato","fontSize":16.5,"color":"#953735"},
   "encoding":{"x":{"datum":20.301,"type":"quantitative"},"y":{"datum":-1.796,"type":"quantitative"}}},
  {"transform":[{"filter":"datum.k=='p'&&datum.t=='YF'&&datum.l=='YF'"}],
   "mark":{"type":"rect","clip":false,"strokeWidth":0,
     "fill":{"gradient":"linear","x1":0,"y1":0,"x2":0,"y2":1,"stops":[{"offset":0,"color":"#ebf1de"},{"offset":1,"color":"#c3d69b"}]}},
   "encoding":{"x":{"datum":-5.972,"type":"quantitative"},"x2":{"datum":-17.655},"y":{"datum":-1.176,"type":"quantitative"},"y2":{"datum":9.793}}},
  {"transform":[{"filter":"datum.k=='p'&&datum.t=='YF'&&datum.l=='YF'"}],
   "mark":{"type":"rule","clip":false,"color":"#3d5a80","strokeWidth":1.3},
   "encoding":{"x":{"datum":-5.972,"type":"quantitative"},"y":{"datum":-1.176,"type":"quantitative"},"y2":{"datum":9.671}}},
  {"transform":[{"filter":"datum.k=='p'&&datum.t=='YF'&&datum.l=='YF'"}],
   "mark":{"type":"rule","clip":false,"color":"#3d5a80","strokeWidth":1.3},
   "encoding":{"x":{"datum":-5.972,"type":"quantitative"},"x2":{"datum":-17.549},"y":{"datum":-1.176,"type":"quantitative"}}},
  {"transform":[{"filter":"datum.k=='p'&&datum.t=='YF'&&datum.l=='YF'"}],
   "mark":{"type":"text","clip":false,"text":"Innovative","align":"center","baseline":"middle","font":"Lato","fontSize":16.5,"fontWeight":"bold","color":"#00b050"},
   "encoding":{"x":{"datum":-11.782,"type":"quantitative"},"y":{"datum":0.047,"type":"quantitative"}}},
  {"transform":[{"filter":"datum.k=='p'&&datum.t=='YF'&&datum.l=='YF'"}],
   "mark":{"type":"text","clip":false,"text":["- less use of","height (F1)","and duration","- more use of","backness (F2)"],"lineHeight":21,"align":"center","baseline":"middle","font":"Lato","fontSize":16.5,"color":"#00b050"},
   "encoding":{"x":{"datum":-11.782,"type":"quantitative"},"y":{"datum":1.76,"type":"quantitative"}}},
  {"transform":[{"filter":"datum.k=='p'&&datum.l=='OM'"}],
   "mark":{"type":"rect","clip":false,"fill":"#d9d9d9","stroke":"#333333","strokeWidth":1},
   "encoding":{"x":{"datum":7,"type":"quantitative"},"x2":{"datum":-1.3},"y":{"datum":-1.6,"type":"quantitative"},"y2":{"datum":-3.53}}},
  {"transform":[{"filter":"datum.k=='p'&&datum.l=='OM'"}],
   "mark":{"type":"text","clip":false,"align":"center","baseline":"middle","font":"Liberation Sans","fontSize":12.5,"color":"#1a1a1a"},
   "encoding":{"text":{"field":"ct"},"x":{"datum":2.85,"type":"quantitative"},"y":{"datum":-2.565,"type":"quantitative"}}},
  {"transform":[{"filter":"datum.k=='p'&&datum.t=='YF'"}],
   "mark":{"type":"rect","clip":false,"fill":"#d9d9d9","stroke":"#333333","strokeWidth":1},
   "encoding":{"x":{"datum":-1.3,"type":"quantitative"},"x2":{"datum":-3.875},"y":{"datum":-1.6,"type":"quantitative"},"y2":{"datum":6.8}}},
  {"transform":[{"filter":"datum.k=='p'&&datum.t=='YF'"}],
   "mark":{"type":"text","clip":false,"align":"center","baseline":"middle","angle":90,"font":"Liberation Sans","fontSize":12.5,"color":"#1a1a1a"},
   "encoding":{"text":{"field":"rt"},"x":{"datum":-2.5875,"type":"quantitative"},"y":{"datum":2.6,"type":"quantitative"}}},
  {"transform":[{"filter":"datum.k=='p'"}],"mark":{"type":"rule","color":"#ebebeb","strokeWidth":0.6},"encoding":{"x":{"datum":-1,"type":"quantitative"}}},
  {"transform":[{"filter":"datum.k=='p'"}],"mark":{"type":"rule","color":"#ebebeb","strokeWidth":0.6},"encoding":{"x":{"datum":1,"type":"quantitative"}}},
  {"transform":[{"filter":"datum.k=='p'"}],"mark":{"type":"rule","color":"#ebebeb","strokeWidth":0.6},"encoding":{"x":{"datum":3,"type":"quantitative"}}},
  {"transform":[{"filter":"datum.k=='p'"}],"mark":{"type":"rule","color":"#ebebeb","strokeWidth":0.6},"encoding":{"x":{"datum":5,"type":"quantitative"}}},
  {"transform":[{"filter":"datum.k=='p'"}],"mark":{"type":"rule","color":"#ebebeb","strokeWidth":0.6},"encoding":{"y":{"datum":-1,"type":"quantitative"}}},
  {"transform":[{"filter":"datum.k=='p'"}],"mark":{"type":"rule","color":"#ebebeb","strokeWidth":0.6},"encoding":{"y":{"datum":1,"type":"quantitative"}}},
  {"transform":[{"filter":"datum.k=='p'"}],"mark":{"type":"rule","color":"#ebebeb","strokeWidth":0.6},"encoding":{"y":{"datum":3,"type":"quantitative"}}},
  {"transform":[{"filter":"datum.k=='p'"}],"mark":{"type":"rule","color":"#ebebeb","strokeWidth":0.6},"encoding":{"y":{"datum":5,"type":"quantitative"}}},
  {"transform":[{"filter":"datum.k=='b'"},{"flatten":["x","s"]}],
   "mark":{"type":"point","filled":true,"size":100,"opacity":0.15,"strokeWidth":0},
   "encoding":{
     "x":{"field":"x","type":"quantitative"},
     "y":{"field":"y","type":"quantitative"},
     "fill":{"field":"s","type":"nominal","scale":{"domain":["ɨ","u","o","ʌ"],"range":["#a52a2a","#0000ff","#ff0000","#00ee00"]},"legend":null}}},
  {"transform":[{"filter":"datum.k=='e'"},{"flatten":["x","y"]}],
   "mark":{"type":"line","interpolate":"basis-closed","strokeWidth":1.3,"strokeCap":"butt"},
   "encoding":{
     "x":{"field":"x","type":"quantitative"},
     "y":{"field":"y","type":"quantitative"},
     "color":{"field":"s","type":"nominal","scale":{"domain":["u","o","ɨ","ʌ"],"range":["#0000ff","#ff0000","#a52a2a","#00ee00"]},
       "legend":{"title":"resp","legendX":385,"legendY":108}},
     "strokeDash":{"field":"d","type":"nominal","scale":{"domain":["longer","shorter"],"range":[[1,0],[3,2.5]]},
       "legend":{"title":"duration","legendX":385,"legendY":257.5,"symbolStrokeColor":"#000000"}},
     "order":{"value":null}}},
  {"transform":[{"filter":"datum.k=='p'&&datum.t=='OM'&&datum.l=='OM'"}],
   "mark":{"type":"rule","clip":false,"color":"#4f7ab0","opacity":0.6,"strokeWidth":12,"strokeCap":"butt"},
   "encoding":{"x":{"datum":6.223,"type":"quantitative"},"y":{"datum":0.488,"type":"quantitative"},"x2":{"datum":-1.758},"y2":{"datum":7.387}}},
  {"transform":[{"filter":"datum.k=='p'&&datum.t=='OF'&&datum.l=='OF'"}],
   "mark":{"type":"rule","clip":false,"color":"#4f7ab0","opacity":0.6,"strokeWidth":12,"strokeCap":"butt"},
   "encoding":{"x":{"datum":7.458,"type":"quantitative"},"y":{"datum":-1.641,"type":"quantitative"},"x2":{"datum":-1.768},"y2":{"datum":6.335}}},
  {"transform":[{"filter":"datum.k=='p'&&datum.t=='YM'&&datum.l=='YM'"}],
   "mark":{"type":"rule","clip":false,"color":"#4f7ab0","opacity":0.6,"strokeWidth":12,"strokeCap":"butt"},
   "encoding":{"x":{"datum":7.447,"type":"quantitative"},"y":{"datum":-2.693,"type":"quantitative"},"x2":{"datum":-1.758},"y2":{"datum":5.267}}},
  {"transform":[{"filter":"datum.k=='p'&&datum.t=='YF'&&datum.l=='YF'"}],
   "mark":{"type":"rule","clip":false,"color":"#4f7ab0","opacity":0.6,"strokeWidth":12,"strokeCap":"butt"},
   "encoding":{"x":{"datum":7.458,"type":"quantitative"},"y":{"datum":-3.761,"type":"quantitative"},"x2":{"datum":0.583},"y2":{"datum":2.184}}},
  {"transform":[{"filter":"datum.k=='p'&&datum.t=='YF'&&datum.l=='YF'"}],
   "mark":{"type":"point","clip":false,"shape":"triangle-up","filled":true,"color":"#4f7ab0","opacity":0.6,"size":676,"angle":138.5,"strokeWidth":0},
   "encoding":{"x":{"datum":-0.204,"type":"quantitative"},"y":{"datum":2.869,"type":"quantitative"}}},
  {"transform":[{"filter":"datum.k=='p'&&datum.t=='OM'&&datum.l=='OF'"}],
   "mark":{"type":"text","clip":false,"text":"F1 steps (5:Low....1:High)","angle":270,"align":"center","baseline":"middle","font":"Liberation Sans","fontSize":15,"color":"#000000"},
   "encoding":{"x":{"datum":9.767,"type":"quantitative"},"y":{"datum":7.175,"type":"quantitative"}}},
  {"transform":[{"filter":"datum.k=='p'&&datum.t=='OF'&&datum.l=='YF'"}],
   "mark":{"type":"text","clip":false,"text":"F2 steps (5:Front....1:Back)","align":"center","baseline":"middle","font":"Liberation Sans","fontSize":15,"color":"#000000"},
   "encoding":{"x":{"datum":-1.75,"type":"quantitative"},"y":{"datum":9.018,"type":"quantitative"}}}
 ]
}
}
